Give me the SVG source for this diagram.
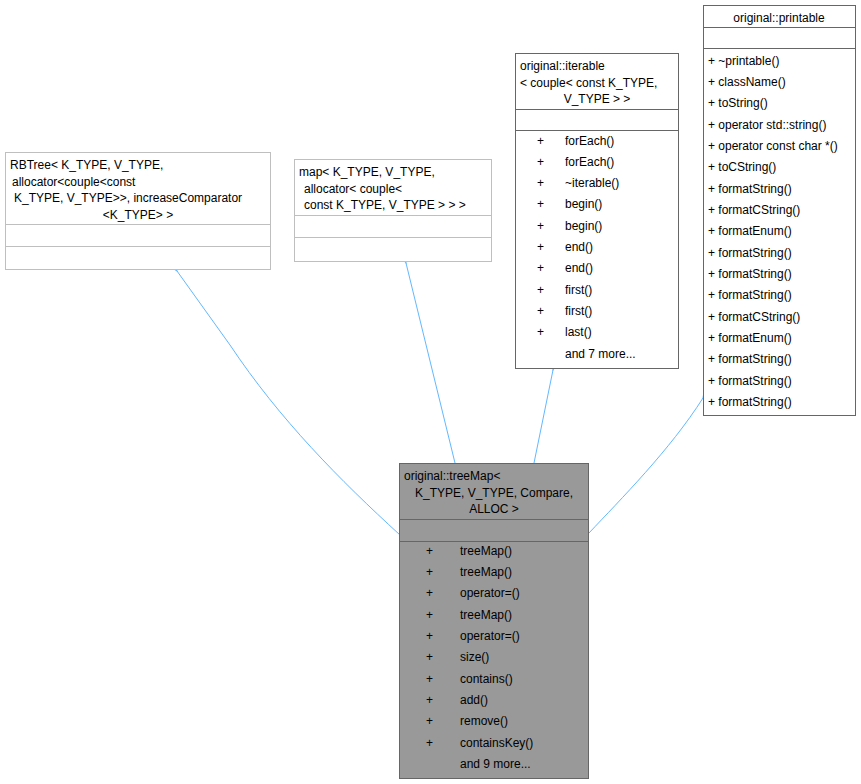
<svg xmlns="http://www.w3.org/2000/svg" width="861" height="784" viewBox="0 0 861 784">
<style>
text{font-family:"Liberation Sans",Arial,sans-serif;font-size:12px;fill:#000}
.b{fill:#fff;stroke:#bfbfbf;stroke-width:1}
.p{fill:#fff;stroke:#666;stroke-width:1}
.m{fill:#999;stroke:#666;stroke-width:1}
.c{fill:none;stroke:#63b8ff;stroke-width:1}
.c text{}
</style>
<defs>
<marker id="t" markerWidth="14" markerHeight="14" refX="1" refY="6" orient="auto" markerUnits="userSpaceOnUse">
<path d="M13,1 L1,6 L13,11 Z" fill="#fff" stroke="#63b8ff"/>
</marker>
</defs>
<g id="connectors">
<path class="c" d="M400,535 C340,480 280,420 230,345 L177,271" marker-end="url(#t)"/>
<path class="c" d="M455,463 L406,263" marker-end="url(#t)"/>
<path class="c" d="M534,463 L553,370" marker-end="url(#t)"/>
<path class="c" d="M589,533 C620,500 670,450 703,398" marker-end="url(#t)"/>
</g>
<g id="rbtree">
<rect class="b" x="5.5" y="152.5" width="265" height="117"/>
<line class="b" x1="5.5" y1="224.5" x2="270.5" y2="224.5"/>
<line class="b" x1="5.5" y1="246.5" x2="270.5" y2="246.5"/>
<text x="10" y="169">RBTree&lt; K_TYPE, V_TYPE,</text>
<text x="12" y="186">allocator&lt;couple&lt;const</text>
<text x="14" y="202">K_TYPE, V_TYPE&gt;&gt;, increaseComparator</text>
<text x="138" y="219" text-anchor="middle">&lt;K_TYPE&gt; &gt;</text>
</g>
<g id="map">
<rect class="b" x="294.5" y="159.5" width="197" height="102"/>
<line class="b" x1="294.5" y1="215.5" x2="491.5" y2="215.5"/>
<line class="b" x1="294.5" y1="237.5" x2="491.5" y2="237.5"/>
<text x="299" y="176">map&lt; K_TYPE, V_TYPE,</text>
<text x="304" y="193">allocator&lt; couple&lt;</text>
<text x="304" y="209">const K_TYPE, V_TYPE &gt; &gt; &gt;</text>
</g>
<g id="iterable">
<rect class="p" x="515.5" y="53.5" width="163" height="315"/>
<line class="p" x1="515.5" y1="109.5" x2="678.5" y2="109.5"/>
<line class="p" x1="515.5" y1="130.5" x2="678.5" y2="130.5"/>
<text x="520" y="70">original::iterable</text>
<text x="520" y="87">&lt; couple&lt; const K_TYPE,</text>
<text x="597" y="103" text-anchor="middle">V_TYPE &gt; &gt;</text>
<text x="537" y="145">+</text><text x="565" y="145">forEach()</text>
<text x="537" y="166">+</text><text x="565" y="166">forEach()</text>
<text x="537" y="187">+</text><text x="565" y="187">~iterable()</text>
<text x="537" y="208">+</text><text x="565" y="208">begin()</text>
<text x="537" y="230">+</text><text x="565" y="230">begin()</text>
<text x="537" y="251">+</text><text x="565" y="251">end()</text>
<text x="537" y="272">+</text><text x="565" y="272">end()</text>
<text x="537" y="294">+</text><text x="565" y="294">first()</text>
<text x="537" y="315">+</text><text x="565" y="315">first()</text>
<text x="537" y="336">+</text><text x="565" y="336">last()</text>
<text x="565" y="358">and 7 more...</text>
</g>
<g id="printable">
<rect class="p" x="703.5" y="5.5" width="152" height="410"/>
<line class="p" x1="703.5" y1="27.5" x2="855.5" y2="27.5"/>
<line class="p" x1="703.5" y1="48.5" x2="855.5" y2="48.5"/>
<text x="779" y="22" text-anchor="middle">original::printable</text>
<text x="708" y="65">+ ~printable()</text>
<text x="708" y="86">+ className()</text>
<text x="708" y="107">+ toString()</text>
<text x="708" y="129">+ operator std::string()</text>
<text x="708" y="150">+ operator const char *()</text>
<text x="708" y="171">+ toCString()</text>
<text x="708" y="193">+ formatString()</text>
<text x="708" y="214">+ formatCString()</text>
<text x="708" y="235">+ formatEnum()</text>
<text x="708" y="257">+ formatString()</text>
<text x="708" y="278">+ formatString()</text>
<text x="708" y="299">+ formatString()</text>
<text x="708" y="321">+ formatCString()</text>
<text x="708" y="342">+ formatEnum()</text>
<text x="708" y="363">+ formatString()</text>
<text x="708" y="385">+ formatString()</text>
<text x="708" y="406">+ formatString()</text>
</g>
<g id="treemap">
<rect class="m" x="399.5" y="463.5" width="189" height="315"/>
<line class="m" x1="399.5" y1="519.5" x2="588.5" y2="519.5"/>
<line class="m" x1="399.5" y1="541.5" x2="588.5" y2="541.5"/>
<text x="404" y="480">original::treeMap&lt;</text>
<text x="494" y="497" text-anchor="middle">K_TYPE, V_TYPE, Compare,</text>
<text x="494" y="513" text-anchor="middle">ALLOC &gt;</text>
<text x="426" y="555">+</text><text x="460" y="555">treeMap()</text>
<text x="426" y="576">+</text><text x="460" y="576">treeMap()</text>
<text x="426" y="597">+</text><text x="460" y="597">operator=()</text>
<text x="426" y="619">+</text><text x="460" y="619">treeMap()</text>
<text x="426" y="640">+</text><text x="460" y="640">operator=()</text>
<text x="426" y="661">+</text><text x="460" y="661">size()</text>
<text x="426" y="683">+</text><text x="460" y="683">contains()</text>
<text x="426" y="704">+</text><text x="460" y="704">add()</text>
<text x="426" y="725">+</text><text x="460" y="725">remove()</text>
<text x="426" y="747">+</text><text x="460" y="747">containsKey()</text>
<text x="460" y="768">and 9 more...</text>
</g>
</svg>
